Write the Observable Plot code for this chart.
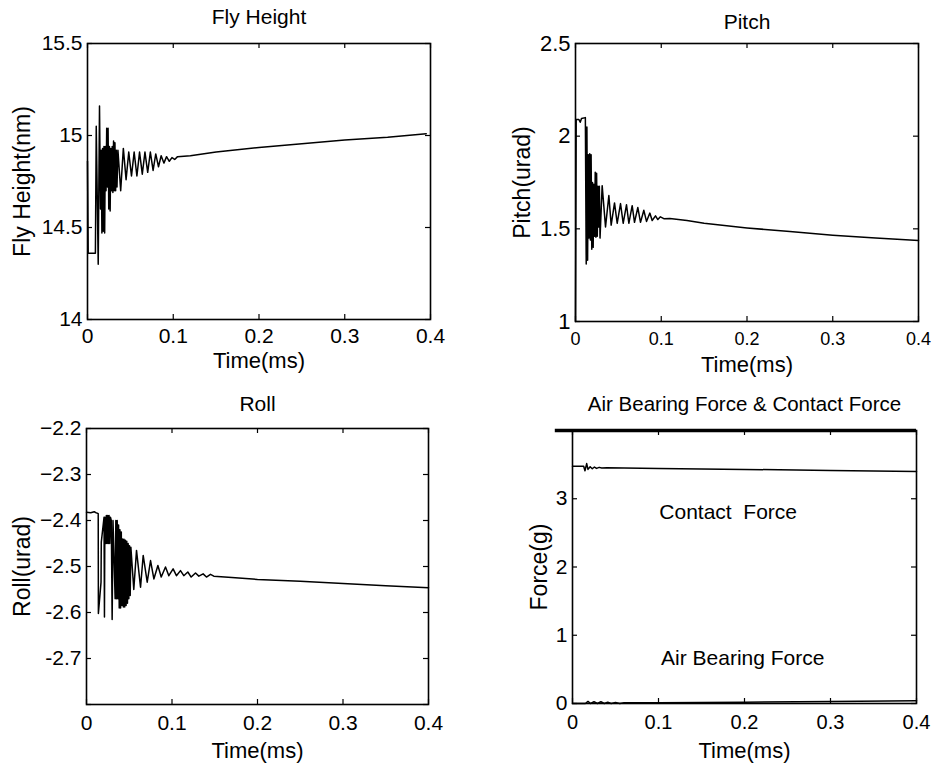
<!DOCTYPE html>
<html>
<head>
<meta charset="utf-8">
<script src="https://cdn.jsdelivr.net/npm/d3@7"></script>
<script src="https://cdn.jsdelivr.net/npm/@observablehq/plot@0.6"></script>
<style>
  html, body { margin: 0; padding: 0; background: #fff; }
  #fig { position: relative; width: 933px; height: 766px; background: #fff; overflow: hidden; }
  #fig > div { position: absolute; }
  svg { overflow: visible; }
</style>
</head>
<body>
<div id="fig"></div>
<script>
// ---------------- DATA ----------------
const timeTicks = [0, 0.1, 0.2, 0.3, 0.4];
const timeTickLabels = ["0", "0.1", "0.2", "0.3", "0.4"];

// Fly Height (nm)
const flyTime = [0, 0.0008, 0.0092, 0.0102, 0.0125, 0.0140, 0.0152, 0.0160, 0.0168, 0.0176, 0.0184, 0.0192, 0.0200, 0.0208,
  0.0216, 0.0224, 0.0232, 0.0240, 0.0248, 0.0256, 0.0264, 0.0272, 0.0280, 0.0288, 0.0296, 0.0304, 0.0312, 0.0320, 0.0328,
  0.0336, 0.0344, 0.0355, 0.0387, 0.0418, 0.0450, 0.0481, 0.0513, 0.0544, 0.0576, 0.0607, 0.0639, 0.0670, 0.0702, 0.0733,
  0.0765, 0.0796, 0.0828, 0.0859, 0.0891, 0.0922, 0.0954, 0.0985, 0.1017, 0.105, 0.12, 0.15, 0.2, 0.25, 0.3, 0.35, 0.395];
const flyHeight = [14.86, 14.36, 14.36, 15.05, 14.30, 15.16, 14.60, 14.92, 14.47, 14.93, 14.48, 14.94, 14.47, 14.94,
  14.70, 15.04, 14.72, 15.04, 14.60, 14.94, 14.59, 14.93, 14.70, 14.94, 14.69, 14.97, 14.70, 14.96, 14.70,
  14.92, 14.72, 14.92, 14.70, 14.93, 14.76, 14.91, 14.78, 14.91, 14.78, 14.91, 14.79, 14.91, 14.80, 14.91,
  14.81, 14.90, 14.83, 14.89, 14.85, 14.885, 14.86, 14.88, 14.87, 14.885, 14.89, 14.91, 14.935, 14.955, 14.975, 14.99, 15.01];
const flyTicks = [14, 14.5, 15, 15.5];
const flyTickLabels = ["14", "14.5", "15", "15.5"];

// Pitch (urad)
const pitchTime = [0, 0.0008, 0.0040, 0.0055, 0.0070, 0.0115, 0.0125, 0.0133, 0.0141, 0.0150, 0.0158, 0.0166, 0.0174, 0.0182,
  0.0190, 0.0198, 0.0206, 0.0214, 0.0222, 0.0230, 0.0238, 0.0246, 0.0254, 0.0262, 0.0270, 0.0278, 0.0286, 0.0311, 0.0350,
  0.0389, 0.0416, 0.0455, 0.0486, 0.0525, 0.0556, 0.0595, 0.0622, 0.0661, 0.0688, 0.0727, 0.0758, 0.0797, 0.0828, 0.0867,
  0.0894, 0.0933, 0.0960, 0.0990, 0.103, 0.11, 0.13, 0.15, 0.2, 0.25, 0.3, 0.35, 0.4];
const pitchValue = [1.00, 2.09, 2.09, 2.075, 2.095, 2.10, 1.31, 2.05, 1.33, 1.90, 1.45, 1.905, 1.44, 1.90,
  1.39, 1.75, 1.40, 1.74, 1.46, 1.805, 1.455, 1.80, 1.46, 1.73, 1.51, 1.73, 1.45, 1.733, 1.51,
  1.68, 1.52, 1.64, 1.53, 1.636, 1.53, 1.63, 1.53, 1.625, 1.535, 1.615, 1.535, 1.60, 1.54, 1.585,
  1.545, 1.57, 1.55, 1.565, 1.555, 1.556, 1.545, 1.53, 1.505, 1.485, 1.465, 1.45, 1.437];
const pitchTicks = [1, 1.5, 2, 2.5];
const pitchTickLabels = ["1", "1.5", "2", "2.5"];

// Roll (urad)
const rollTime = [0, 0.005, 0.009, 0.011, 0.0125, 0.0137, 0.0139, 0.0170, 0.0173, 0.0205, 0.0210, 0.0215, 0.0225, 0.0232,
  0.0240, 0.0248, 0.0256, 0.0264, 0.0272, 0.0280, 0.0290, 0.0300, 0.0310, 0.0335, 0.0343, 0.0351, 0.0359, 0.0367, 0.0375,
  0.0383, 0.0391, 0.0399, 0.0407, 0.0415, 0.0423, 0.0431, 0.0439, 0.0447, 0.0455, 0.0463, 0.0471, 0.0479, 0.0487, 0.0495,
  0.0503, 0.0511, 0.0519, 0.0553, 0.0585, 0.0632, 0.0663, 0.0710, 0.0749, 0.0788, 0.0835, 0.0874, 0.0924, 0.0963, 0.1013,
  0.1052, 0.1099, 0.1138, 0.1185, 0.1224, 0.1275, 0.1314, 0.1364, 0.1403, 0.1450, 0.1489, 0.17, 0.2, 0.25, 0.3, 0.35, 0.4];
const rollValue = [-2.382, -2.383, -2.381, -2.383, -2.384, -2.385, -2.602, -2.534, -2.447, -2.393, -2.610, -2.393, -2.45, -2.389,
  -2.45, -2.389, -2.45, -2.389, -2.45, -2.393, -2.40, -2.615, -2.40, -2.57, -2.40, -2.57, -2.40, -2.57, -2.41,
  -2.59, -2.42, -2.59, -2.425, -2.585, -2.44, -2.588, -2.441, -2.588, -2.443, -2.585, -2.445, -2.58, -2.45, -2.57,
  -2.455, -2.563, -2.458, -2.55, -2.465, -2.545, -2.476, -2.534, -2.487, -2.527, -2.498, -2.523, -2.501, -2.520, -2.505,
  -2.520, -2.509, -2.520, -2.512, -2.523, -2.514, -2.521, -2.516, -2.523, -2.517, -2.521, -2.524, -2.528, -2.532, -2.537, -2.542, -2.546];
const rollTicks = [-2.8, -2.7, -2.6, -2.5, -2.4, -2.3, -2.2];
const rollTickLabels = ["", "-2.7", "-2.6", "-2.5", "\u22122.4", "\u22122.3", "\u22122.2"];

// Forces (g)
const contactTime = [0, 0.013, 0.0145, 0.0165, 0.018, 0.0205, 0.023, 0.0255, 0.028, 0.031, 0.034, 0.04, 0.06, 0.1, 0.2, 0.3, 0.4];
const contactForce = [3.475, 3.475, 3.41, 3.515, 3.43, 3.47, 3.44, 3.465, 3.445, 3.46, 3.45, 3.455, 3.45, 3.445, 3.43, 3.415, 3.40];
const airTime = [0, 0.015, 0.018, 0.021, 0.025, 0.029, 0.033, 0.037, 0.041, 0.045, 0.05, 0.055, 0.06, 0.1, 0.2, 0.3, 0.4];
const airForce = [0.0, 0.0, 0.03, 0.0, 0.025, 0.0, 0.025, 0.0, 0.02, 0.0, 0.015, 0.0, 0.01, 0.01, 0.02, 0.03, 0.04];
const forceTicks = [0, 1, 2, 3, 4];
const forceTickLabels = ["0", "1", "2", "3", ""];
const forceNotes = ["Contact  Force", "Air Bearing Force"];
const forceNoteTime = [0.181, 0.198];
const forceNoteValue = [2.80, 0.66];

// ---------------- DRAWING ----------------
const FONT = "'Liberation Sans', Arial, Helvetica, sans-serif";
const zip = (ts, vs) => ts.map((t, i) => ({t, v: vs[i]}));
const labeler = (ticks, labels) => d => labels[ticks.indexOf(d)] ?? "";
const TICK = 5;

function panel(cfg) {
  const [mt, mr, mb, ml] = cfg.m;
  const fw = cfg.width - ml - mr, fh = cfg.height - mt - mb;
  const marks = [
    Plot.frame({stroke: "black", strokeWidth: 1.6}),
    // tick labels
    Plot.axisX(timeTicks, {anchor: "bottom", tickSize: 0, tickPadding: cfg.xPad, fontSize: cfg.xFont,
      tickFormat: labeler(timeTicks, timeTickLabels), label: null}),
    Plot.axisY(cfg.yTicks, {anchor: "left", tickSize: 0, tickPadding: 5, fontSize: cfg.yFont,
      tickFormat: labeler(cfg.yTicks, cfg.yLabels), label: null}),
    // inward ticks on all four sides
    Plot.ruleX(timeTicks, {insetTop: fh - TICK, stroke: "black", strokeWidth: 1.2}),
    Plot.ruleX(timeTicks, {insetBottom: fh - TICK, stroke: "black", strokeWidth: 1.2}),
    Plot.ruleY(cfg.yTicks, {insetRight: fw - TICK, stroke: "black", strokeWidth: 1.2}),
    Plot.ruleY(cfg.yTicks, {insetLeft: fw - TICK, stroke: "black", strokeWidth: 1.2}),
    ...cfg.series.map(s => Plot.line(s, {x: "t", y: "v", stroke: "black", strokeWidth: 1.5})),
    Plot.text([cfg.title], {text: d => d, frameAnchor: "top", lineAnchor: "middle", dy: cfg.titleDy, fontSize: cfg.titleFont || 21}),
    Plot.text(["Time(ms)"], {text: d => d, frameAnchor: "bottom", lineAnchor: "middle", dy: cfg.xlabDy, fontSize: 22}),
    Plot.text([cfg.ylabel], {text: d => d, frameAnchor: "left", textAnchor: "middle", lineAnchor: "middle",
      rotate: -90, dx: cfg.ylabDx, fontSize: 23}),
    ...(cfg.extra || [])
  ];
  const svg = Plot.plot({
    width: cfg.width, height: cfg.height,
    marginLeft: ml, marginRight: mr, marginTop: mt, marginBottom: mb,
    x: {domain: [0, 0.4]},
    y: {domain: cfg.yDomain},
    style: {fontFamily: FONT, fontSize: "21px", color: "black", background: "transparent", overflow: "visible"},
    marks
  });
  const holder = document.createElement("div");
  holder.style.left = cfg.left + "px";
  holder.style.top = cfg.top + "px";
  holder.appendChild(svg);
  document.getElementById("fig").appendChild(holder);
}

panel({
  left: 0, top: 0, width: 466, height: 383, m: [43, 36, 64, 87],
  yDomain: [14, 15.5], yTicks: flyTicks, yLabels: flyTickLabels,
  series: [zip(flyTime, flyHeight)],
  title: "Fly Height", titleDy: -26, xlabDy: 41, ylabel: "Fly Height(nm)", ylabDx: -65,
  xFont: 21, yFont: 21, xPad: 9
});

panel({
  left: 466, top: 0, width: 467, height: 383, m: [43, 15, 62, 109],
  yDomain: [1, 2.5], yTicks: pitchTicks, yLabels: pitchTickLabels,
  series: [zip(pitchTime, pitchValue)],
  title: "Pitch", titleDy: -21, xlabDy: 43, ylabel: "Pitch(urad)", ylabDx: -53,
  xFont: 18, yFont: 22, xPad: 11
});

panel({
  left: 0, top: 383, width: 466, height: 383, m: [45, 38, 62, 86],
  yDomain: [-2.8, -2.2], yTicks: rollTicks, yLabels: rollTickLabels,
  series: [zip(rollTime, rollValue)],
  title: "Roll", titleDy: -24, xlabDy: 46, ylabel: "Roll(urad)", ylabDx: -64,
  xFont: 21, yFont: 21, xPad: 11
});

panel({
  left: 466, top: 383, width: 467, height: 383, m: [47, 17, 63, 106],
  yDomain: [0, 4], yTicks: forceTicks, yLabels: forceTickLabels,
  series: [zip(contactTime, contactForce), zip(airTime, airForce)],
  title: "Air Bearing Force & Contact Force", titleDy: -26, titleFont: 20.5, xlabDy: 47, ylabel: "Force(g)", ylabDx: -33,
  xFont: 20, yFont: 21, xPad: 11,
  extra: [
    Plot.ruleY([4], {x1: -0.02, x2: 0.4, stroke: "black", strokeWidth: 3.5}),
    Plot.text(forceNotes, {x: (d, i) => forceNoteTime[i], y: (d, i) => forceNoteValue[i], text: d => d, fontSize: 21})
  ]
});
</script>
</body>
</html>
